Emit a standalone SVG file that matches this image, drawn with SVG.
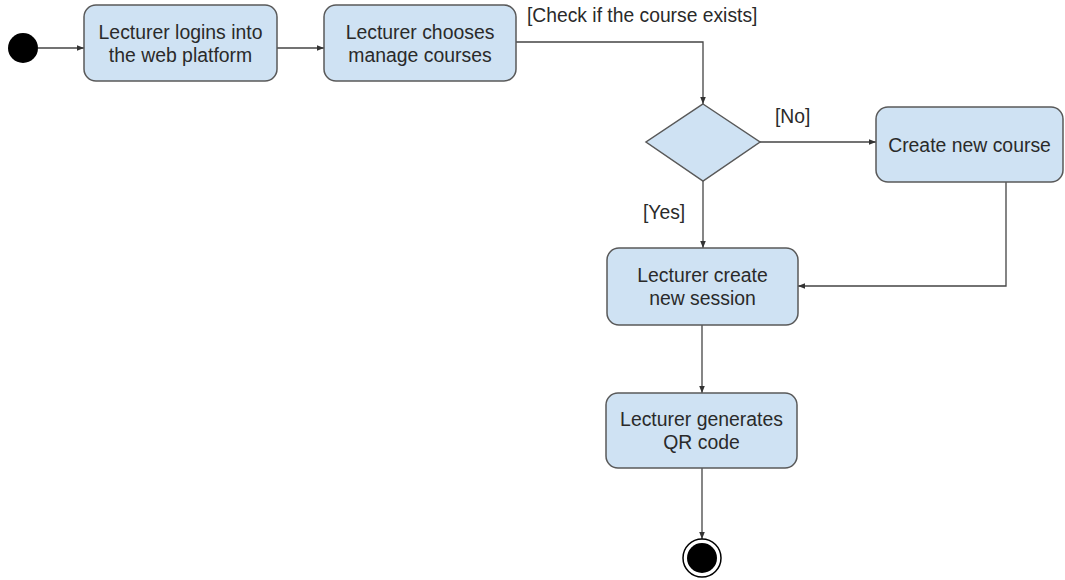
<svg xmlns="http://www.w3.org/2000/svg" width="1065" height="580" viewBox="0 0 1065 580">
<style>
.box{fill:#cfe2f3;stroke:#595959;stroke-width:1.5}
.t{font-family:"Liberation Sans",Arial,sans-serif;font-size:19.4px;fill:#2a2a2a;text-anchor:middle}
.lbl{font-family:"Liberation Sans",Arial,sans-serif;font-size:19.3px;fill:#2a2a2a}
.c{fill:none;stroke:#444;stroke-width:1.3}
</style>
<defs>
<marker id="ah" viewBox="0 0 10 10" refX="10" refY="5" markerWidth="7" markerHeight="7" orient="auto" markerUnits="userSpaceOnUse">
<path d="M0,1 L10,5 L0,9 z" fill="#333"/>
</marker>
</defs>
<rect width="1065" height="580" fill="#fff"/>
<g id="connectors">
<line class="c" x1="38" y1="48" x2="84" y2="48" marker-end="url(#ah)"/>
<line class="c" x1="277" y1="48" x2="324" y2="48" marker-end="url(#ah)"/>
<polyline class="c" points="516,42 703,42 703,104" marker-end="url(#ah)"/>
<line class="c" x1="760" y1="142" x2="876" y2="142" marker-end="url(#ah)"/>
<line class="c" x1="703" y1="181" x2="703" y2="248" marker-end="url(#ah)"/>
<polyline class="c" points="1006,182 1006,286 798,286" marker-end="url(#ah)"/>
<line class="c" x1="702" y1="325" x2="702" y2="393" marker-end="url(#ah)"/>
<line class="c" x1="702" y1="468" x2="702" y2="539" marker-end="url(#ah)"/>
<text class="lbl" x="527" y="22">[Check if the course exists]</text>
<text class="lbl" x="775" y="123">[No]</text>
<text class="lbl" x="643" y="219">[Yes]</text>
</g>
<g id="start"><circle cx="23" cy="48" r="15" fill="#000"/></g>
<g id="n1"><rect class="box" x="84" y="5" width="193" height="76" rx="12"/>
<text class="t" x="180.5" y="39">Lecturer logins into</text><text class="t" x="180.5" y="62">the web platform</text></g>
<g id="n2"><rect class="box" x="324" y="5" width="192" height="76" rx="12"/>
<text class="t" x="420" y="39">Lecturer chooses</text><text class="t" x="420" y="62">manage courses</text></g>
<g id="decision"><polygon class="box" points="703,104 760,142 703,181 646,142"/></g>
<g id="n3"><rect class="box" x="876" y="107" width="187" height="75" rx="12"/>
<text class="t" x="969.5" y="152">Create new course</text></g>
<g id="n4"><rect class="box" x="607" y="248" width="191" height="77" rx="12"/>
<text class="t" x="702.5" y="282">Lecturer create</text><text class="t" x="702.5" y="305">new session</text></g>
<g id="n5"><rect class="box" x="606" y="393" width="191" height="75" rx="12"/>
<text class="t" x="701.5" y="426">Lecturer generates</text><text class="t" x="701.5" y="449">QR code</text></g>
<g id="end"><circle cx="702" cy="558" r="19" fill="#fff" stroke="#000" stroke-width="1.5"/><circle cx="702" cy="558" r="15" fill="#000"/></g>
</svg>
